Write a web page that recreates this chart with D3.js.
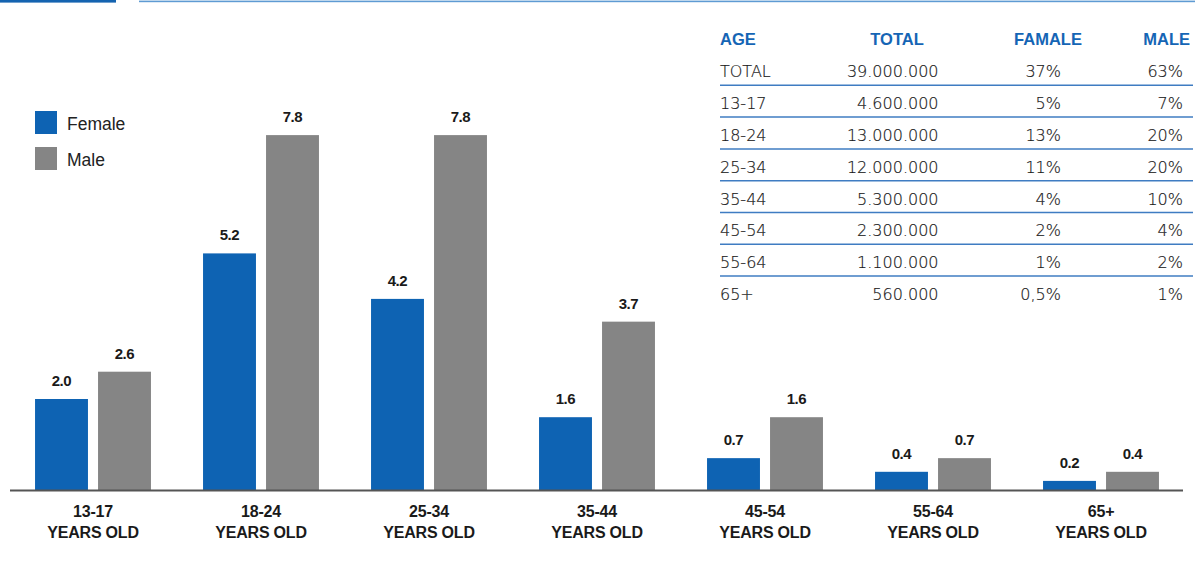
<!DOCTYPE html>
<html>
<head>
<meta charset="utf-8">
<script src="https://cdn.jsdelivr.net/npm/d3@7"></script>
<style>
  html, body { margin: 0; padding: 0; background: #fff; }
  svg { display: block; }
</style>
</head>
<body>
<svg id="chart" width="1195" height="568"></svg>
<script>
// ---- Data ----
const categories = ["13-17", "18-24", "25-34", "35-44", "45-54", "55-64", "65+"];
const femaleValues = [2.0, 5.2, 4.2, 1.6, 0.7, 0.4, 0.2];
const maleValues = [2.6, 7.8, 7.8, 3.7, 1.6, 0.7, 0.4];
const seriesNames = ["Female", "Male"];
const categorySuffix = "YEARS OLD";

const tableHeaders = ["AGE", "TOTAL", "FAMALE", "MALE"];
const tableAge = ["TOTAL", "13-17", "18-24", "25-34", "35-44", "45-54", "55-64", "65+"];
const tableTotal = ["39.000.000", "4.600.000", "13.000.000", "12.000.000", "5.300.000", "2.300.000", "1.100.000", "560.000"];
const tableFemale = ["37%", "5%", "13%", "11%", "4%", "2%", "1%", "0,5%"];
const tableMale = ["63%", "7%", "20%", "20%", "10%", "4%", "2%", "1%"];

// ---- Styles ----
const FEMALE = "#0e63b3";
const MALE = "#858585";
const HEAD_BLUE = "#1565b5";
const LINE_BLUE = "#3f7cc2";

const svg = d3.select("#chart");

// top decoration
svg.append("rect").attr("x", 0).attr("y", 0).attr("width", 116).attr("height", 2.6).attr("fill", "#1463b0");
svg.append("rect").attr("x", 139).attr("y", 0.6).attr("width", 1056).attr("height", 1.6).attr("fill", "#5e9bd3");

// ---- Scales ----
const baseline = 490;
const x0 = d3.scaleBand().domain(categories).range([9, 1185]).paddingInner(0.31).paddingOuter(0.155);
const x1 = d3.scaleBand().domain(seriesNames).range([0, x0.bandwidth()]).paddingInner(0.16);
const y = d3.scaleLinear().domain([0, 8]).range([baseline, baseline - 8 * 45.5]);
const color = d3.scaleOrdinal().domain(seriesNames).range([FEMALE, MALE]);

const rows = categories.map((c, i) => ({ cat: c, values: [
  { key: "Female", value: femaleValues[i] },
  { key: "Male", value: maleValues[i] }
]}));

const groups = svg.append("g").selectAll("g.grp").data(rows).join("g")
  .attr("class", "grp")
  .attr("transform", d => `translate(${x0(d.cat)},0)`);

groups.selectAll("rect").data(d => d.values).join("rect")
  .attr("x", d => x1(d.key))
  .attr("width", x1.bandwidth())
  .attr("y", d => y(d.value))
  .attr("height", d => baseline - y(d.value))
  .attr("fill", d => color(d.key));

groups.selectAll("text.val").data(d => d.values).join("text")
  .attr("class", "val")
  .attr("x", d => x1(d.key) + x1.bandwidth() / 2)
  .attr("y", d => y(d.value) - 13)
  .attr("text-anchor", "middle")
  .attr("font-family", "Liberation Sans, Arial, sans-serif")
  .attr("font-weight", "bold")
  .attr("font-size", 15)
  .attr("letter-spacing", -0.4)
  .attr("fill", "#1a1a1a")
  .text(d => d3.format(".1f")(d.value));

// axis
const axis = svg.append("g")
  .attr("transform", `translate(0,${baseline})`)
  .call(d3.axisBottom(x0).tickSize(0).tickPadding(0));
axis.select(".domain").attr("stroke", "#555").attr("stroke-width", 2).attr("d", "M10,0.5H1183");
axis.selectAll(".tick text").each(function(d) {
  const t = d3.select(this);
  t.text(null).attr("y", 0).attr("dy", null)
    .attr("font-family", "Liberation Sans, Arial, sans-serif")
    .attr("font-weight", "bold")
    .attr("font-size", 16)
    .attr("letter-spacing", -0.2)
    .attr("fill", "#1a1a1a");
  t.append("tspan").attr("x", 0).attr("y", 26.5).text(d);
  t.append("tspan").attr("x", 0).attr("y", 47.5).text(categorySuffix);
});

// legend
const legend = svg.append("g").selectAll("g").data(seriesNames).join("g")
  .attr("transform", (d, i) => `translate(35,${111 + i * 36})`);
legend.append("rect").attr("width", 22).attr("height", 23).attr("fill", d => color(d));
legend.append("text").attr("x", 32).attr("y", 19)
  .attr("font-family", "Liberation Sans, Arial, sans-serif")
  .attr("font-size", 17.5)
  .attr("fill", "#222")
  .text(d => d);

// ---- Table ----
const table = svg.append("g");
const headerX = [720, 897, 1048, 1190];
const headerAnchor = ["start", "middle", "middle", "end"];
table.selectAll("text.hdr").data(tableHeaders).join("text")
  .attr("class", "hdr")
  .attr("x", (d, i) => headerX[i])
  .attr("y", 45)
  .attr("text-anchor", (d, i) => headerAnchor[i])
  .attr("font-family", "Liberation Sans, Arial, sans-serif")
  .attr("font-weight", "bold")
  .attr("font-size", 16.5)
  .attr("fill", HEAD_BLUE)
  .text(d => d);

const rowY = d3.scaleBand().domain(tableAge).range([45.5, 45.5 + tableAge.length * 31.8]);
const tableRows = tableAge.map((a, i) => ({ age: a, total: tableTotal[i], female: tableFemale[i], male: tableMale[i] }));
const cols = [
  { key: "age", x: 720, anchor: "start" },
  { key: "total", x: 938.5, anchor: "end" },
  { key: "female", x: 1061, anchor: "end" },
  { key: "male", x: 1183, anchor: "end" }
];
const tr = table.selectAll("g.row").data(tableRows).join("g")
  .attr("class", "row")
  .attr("transform", d => `translate(0,${rowY(d.age) + rowY.bandwidth()})`);
cols.forEach(c => {
  tr.append("text")
    .attr("x", c.x)
    .attr("y", 0)
    .attr("text-anchor", c.anchor)
    .attr("font-family", "DejaVu Sans, sans-serif")
    .attr("font-weight", 200)
    .attr("font-size", 16)
    .attr("fill", "#111")
    .attr("stroke", "#333")
    .attr("stroke-width", 0.2)
    .text(d => d[c.key]);
});
tr.filter((d, i) => i < tableRows.length - 1).append("line")
  .attr("x1", 720).attr("x2", 1193)
  .attr("y1", 8).attr("y2", 8)
  .attr("stroke", LINE_BLUE).attr("stroke-width", 1.5);
</script>
</body>
</html>
